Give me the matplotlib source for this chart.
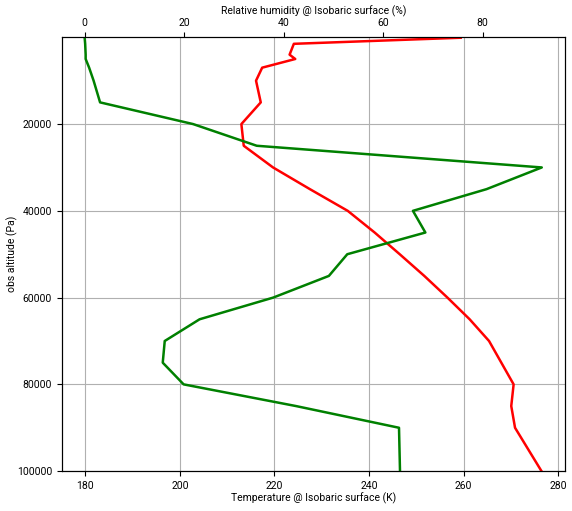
import matplotlib.pyplot as plt

plt.rcParams['font.family'] = ['Roboto', 'DejaVu Sans']

# livelli di pressione (Pa)
pressure = [100, 1500, 4000, 5000, 7000, 10000, 15000, 20000, 25000, 30000,
            35000, 40000, 45000, 50000, 55000, 60000, 65000, 70000, 75000,
            80000, 85000, 90000, 95000, 100000]

# temperatura (K)
temperature = [259.4, 224.1, 223.2, 224.4, 217.4, 216.1, 217.1, 213.0, 213.5,
               219.7, 227.5, 235.5, 241.2, 246.5, 251.7, 256.6, 261.3, 265.4,
               268.0, 270.6, 270.1, 270.9, 273.7, 276.5]

# umidita' relativa (%)
humidity = [0.0, 0.1, 0.2, 0.2, 0.9, 1.8, 3.1, 21.8, 34.6, 91.9, 80.8, 66.0,
            68.5, 52.8, 49.1, 37.9, 23.1, 16.1, 15.7, 19.9, 42.5, 63.2, 63.3,
            63.4]

fig, ax = plt.subplots(figsize=(5.72, 5.11), dpi=100)
fig.subplots_adjust(left=0.108, right=0.988, top=0.927, bottom=0.078)

ax.plot(temperature, pressure, color='red', lw=1.8)
ax.set_xlim(175, 281.5)
ax.set_ylim(100000, 0)
ax.set_yticks([20000, 40000, 60000, 80000, 100000])
ax.set_xlabel('Temperature @ Isobaric surface (K)', fontsize=7.5, labelpad=1.5)
ax.set_ylabel('obs altitude (Pa)', fontsize=7.5, labelpad=-1)
ax.grid(True, color='#b0b0b0')
ax.tick_params(labelsize=7.5)

ax2 = ax.twiny()
ax2.plot(humidity, pressure, color='green', lw=1.8)
ax2.set_xlim(-4.6, 96.6)
ax2.set_xticks([0, 20, 40, 60, 80])
ax2.set_xlabel('Relative humidity @ Isobaric surface (%)', fontsize=7.5, labelpad=2)
ax2.tick_params(labelsize=7.5)

fig.savefig('out.png', dpi=100)
